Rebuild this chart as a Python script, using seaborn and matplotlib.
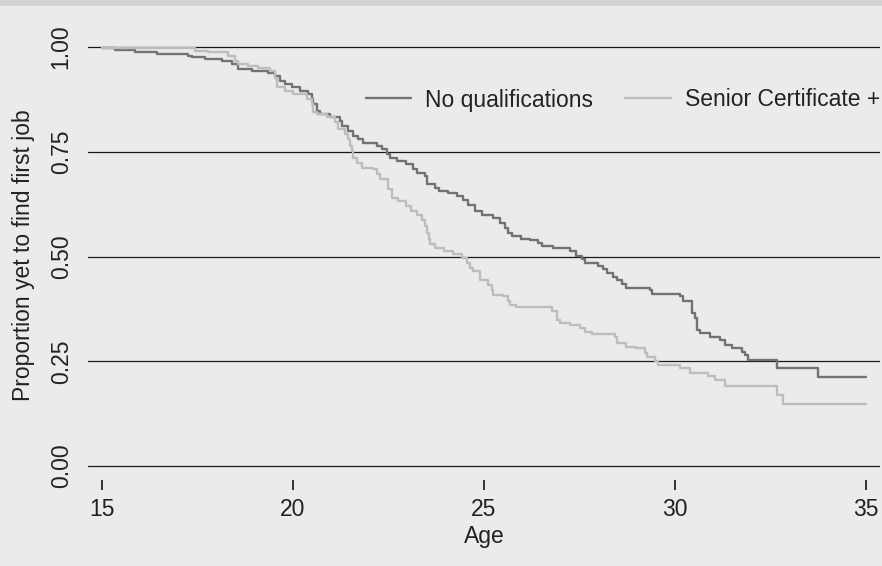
import numpy as np
import pandas as pd
import matplotlib
matplotlib.use("Agg")
import matplotlib.pyplot as plt
from matplotlib.patches import Rectangle
import seaborn as sns

# ---- data (Kaplan-Meier style step curves) ----
age_noqual = [15.0, 15.34, 15.86, 16.43, 17.26, 17.35, 17.70, 18.13, 18.40, 18.57,
              18.92, 19.35, 19.53, 19.66, 19.79, 19.97, 20.18, 20.40, 20.49, 20.53,
              20.62, 20.71, 20.97, 21.23, 21.27, 21.45, 21.58, 21.71, 21.84, 22.19,
              22.32, 22.45, 22.54, 22.71, 22.97, 23.15, 23.24, 23.46, 23.50, 23.72,
              23.81, 24.07, 24.29, 24.46, 24.59, 24.76, 24.94, 25.24, 25.42, 25.55,
              25.64, 25.72, 25.98, 26.20, 26.42, 26.51, 26.81, 27.25, 27.42, 27.56,
              27.64, 27.99, 28.12, 28.21, 28.38, 28.47, 28.60, 28.73, 29.35, 29.39,
              30.13, 30.22, 30.44, 30.52, 30.57, 30.65, 30.92, 31.18, 31.31, 31.48,
              31.75, 31.83, 31.92, 32.66, 33.75, 35.0]
surv_noqual = [0.997, 0.993, 0.987, 0.983, 0.979, 0.975, 0.971, 0.967, 0.959, 0.947,
               0.943, 0.939, 0.931, 0.919, 0.911, 0.904, 0.895, 0.888, 0.876, 0.864,
               0.848, 0.840, 0.832, 0.824, 0.812, 0.800, 0.788, 0.780, 0.770, 0.764,
               0.756, 0.744, 0.736, 0.728, 0.720, 0.708, 0.700, 0.692, 0.672, 0.664,
               0.656, 0.652, 0.644, 0.636, 0.624, 0.608, 0.600, 0.592, 0.580, 0.569,
               0.557, 0.550, 0.542, 0.539, 0.533, 0.526, 0.521, 0.513, 0.502, 0.493,
               0.485, 0.478, 0.469, 0.461, 0.451, 0.443, 0.435, 0.425, 0.419, 0.411,
               0.405, 0.393, 0.365, 0.353, 0.325, 0.317, 0.308, 0.301, 0.289, 0.281,
               0.273, 0.266, 0.254, 0.234, 0.212, 0.212]

age_senior = [15.0, 17.43, 17.77, 18.30, 18.48, 18.57, 18.83, 19.09, 19.40, 19.53,
              19.57, 19.80, 20.00, 20.36, 20.49, 20.53, 20.62, 20.88, 21.10, 21.19,
              21.36, 21.45, 21.50, 21.54, 21.58, 21.67, 21.80, 22.10, 22.19, 22.28,
              22.49, 22.58, 22.76, 22.97, 23.10, 23.24, 23.37, 23.46, 23.50, 23.55,
              23.59, 23.72, 23.94, 24.20, 24.42, 24.55, 24.63, 24.72, 24.90, 25.11,
              25.20, 25.24, 25.50, 25.64, 25.68, 25.85, 26.77, 26.90, 26.99, 27.25,
              27.51, 27.64, 27.82, 28.43, 28.47, 28.73, 28.99, 29.21, 29.26, 29.47,
              29.55, 30.13, 30.39, 30.87, 31.04, 31.31, 32.66, 32.83, 35.0]
surv_senior = [0.997, 0.991, 0.987, 0.979, 0.967, 0.959, 0.955, 0.951, 0.943, 0.927,
               0.904, 0.895, 0.888, 0.876, 0.864, 0.844, 0.840, 0.832, 0.820, 0.804,
               0.792, 0.780, 0.764, 0.752, 0.736, 0.724, 0.712, 0.708, 0.696, 0.684,
               0.660, 0.640, 0.632, 0.620, 0.608, 0.600, 0.588, 0.572, 0.556, 0.541,
               0.529, 0.521, 0.513, 0.505, 0.497, 0.485, 0.473, 0.465, 0.445, 0.433,
               0.421, 0.409, 0.405, 0.393, 0.385, 0.380, 0.369, 0.349, 0.341, 0.337,
               0.329, 0.321, 0.316, 0.309, 0.294, 0.285, 0.281, 0.269, 0.261, 0.250,
               0.242, 0.234, 0.223, 0.215, 0.206, 0.190, 0.170, 0.148, 0.148]

series_names = ["No qualifications", "Senior Certificate +"]
x_ticks = [15, 20, 25, 30, 35]
y_ticks = [0.00, 0.25, 0.50, 0.75, 1.00]
y_tick_labels = ["0.00", "0.25", "0.50", "0.75", "1.00"]

df = pd.concat([
    pd.DataFrame({"Age": age_noqual, "Surv": surv_noqual, "Group": series_names[0]}),
    pd.DataFrame({"Age": age_senior, "Surv": surv_senior, "Group": series_names[1]}),
], ignore_index=True)

# ---- style ----
BG = "#ebebed"
sns.set_style("white")
plt.rcParams["font.family"] = ["Liberation Sans", "DejaVu Sans"]
plt.rcParams["text.color"] = "#222222"

FS = 16.5
W, H = 882, 566
fig = plt.figure(figsize=(W / 100, H / 100), dpi=100, facecolor=BG)

# darker strip across the top
fig.patches.append(Rectangle((0, 1 - 6 / H), 1, 6 / H, transform=fig.transFigure,
                             facecolor="#d3d4d6", edgecolor="none", zorder=0))

ax_l, ax_r, ax_t, ax_b = 88, 880, 30, 481
ax = fig.add_axes([ax_l / W, (H - ax_b) / H, (ax_r - ax_l) / W, (ax_b - ax_t) / H])
ax.set_facecolor(BG)

sns.lineplot(data=df, x="Age", y="Surv", hue="Group", hue_order=series_names,
             palette=["#727272", "#bdbdbd"], estimator=None, sort=False,
             drawstyle="steps-post", linewidth=1.7, ax=ax, legend=True)

# horizontal reference lines
for yv in y_ticks:
    ax.axhline(yv, color="#1a1a1a", linewidth=0.9, zorder=0.5)

# limits from pixel geometry: 15->102px, 35->866px; 1.0->47px, 0.0->466px
px_per_yr = (866 - 102) / 20
px_per_unit = 466 - 47
ax.set_xlim(15 - (102 - ax_l) / px_per_yr, 35 + (ax_r - 866) / px_per_yr)
ax.set_ylim(0 - (ax_b - 466) / px_per_unit, 1 + (47 - ax_t) / px_per_unit)

for s in ax.spines.values():
    s.set_visible(False)

ax.set_xticks(x_ticks)
ax.set_xticklabels([str(t) for t in x_ticks], fontsize=FS)
ax.set_yticks(y_ticks)
ax.set_yticklabels(y_tick_labels, fontsize=FS, rotation=90, va="center")
ax.tick_params(axis="x", bottom=False, length=7, pad=5, labelcolor="#222222")
ax.tick_params(axis="y", left=False, length=0, pad=11, labelcolor="#222222")

# small tick marks just below the plotting area (axes-fraction y range)
ax.vlines(x_ticks, (ax_b - 480) / (ax_b - ax_t), (ax_b - 490) / (ax_b - ax_t),
          transform=ax.get_xaxis_transform(), colors="#333333", linewidth=1.4,
          clip_on=False, zorder=5)

ax.set_xlabel("Age", fontsize=FS, color="#222222")
ax.set_ylabel("Proportion yet to find first job", fontsize=FS, color="#222222")
ax.xaxis.set_label_coords(0.5, -0.098)
ax.yaxis.set_label_coords(-0.067, 0.5)

leg = ax.legend(loc="center right", bbox_to_anchor=(1.0, (ax_b - 100) / (ax_b - ax_t)),
                ncol=2, frameon=False, fontsize=FS, handlelength=2.0,
                handletextpad=0.6, columnspacing=1.4, borderaxespad=0, borderpad=0)
for line in leg.get_lines():
    line.set_linewidth(1.7)

fig.savefig("out.png", dpi=100, facecolor=BG)
